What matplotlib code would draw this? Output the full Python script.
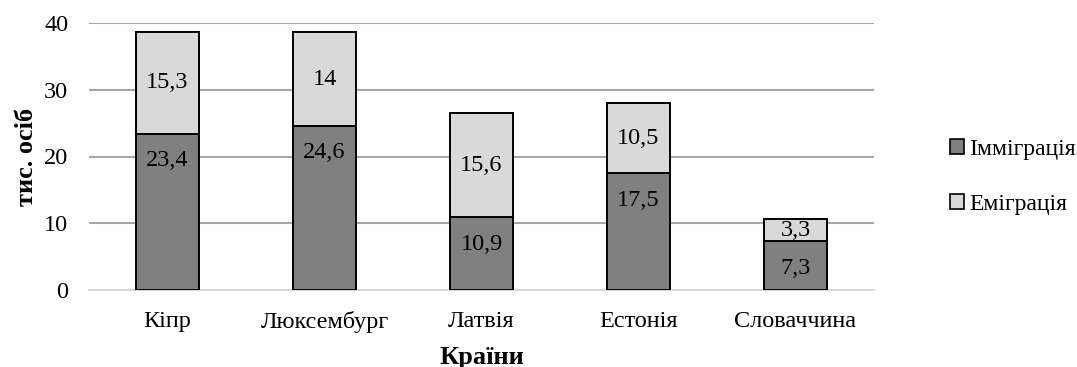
import matplotlib
matplotlib.use('Agg')
import matplotlib.pyplot as plt
import numpy as np
from matplotlib.patches import Patch

plt.rcParams['font.family'] = ['Liberation Serif', 'DejaVu Serif']

countries = ['Кіпр', 'Люксембург', 'Латвія', 'Естонія', 'Словаччина']
immigration = [23.4, 24.6, 10.9, 17.5, 7.3]
emigration = [15.3, 14, 15.6, 10.5, 3.3]
series_names = ['Імміграція', 'Еміграція']

IMM_COLOR = '#808080'
EMI_COLOR = '#d9d9d9'
FS = 17.5
TITLE_FS = 19


def fmt(v):
    return f'{v:g}'.replace('.', ',')


fig = plt.figure(figsize=(10.77, 3.67), dpi=100)
ax = fig.add_axes([89 / 1077, 1 - 290 / 367, (874 - 89) / 1077, (290 - 23) / 367])

x = np.arange(len(countries))
width = 0.40

ax.bar(x, immigration, width, color=IMM_COLOR, edgecolor='black', linewidth=1.4, zorder=3)
ax.bar(x, emigration, width, bottom=immigration, color=EMI_COLOR,
       edgecolor='black', linewidth=1.4, zorder=3)

# підписи: імміграція — під верхнім краєм, еміграція — по центру сегмента
for xi, v in zip(x, immigration):
    ax.annotate(fmt(v), (xi, v), xytext=(0, -19.5), textcoords='offset points',
                ha='center', va='center', fontsize=FS, zorder=4)
for xi, base, v in zip(x, immigration, emigration):
    ax.text(xi, base + v / 2, fmt(v), ha='center', va='center', fontsize=FS, zorder=4)

ax.set_xlim(-0.5, len(countries) - 0.5)
ax.set_ylim(0, 40)
ax.set_yticks([0, 10, 20, 30, 40])
ax.yaxis.grid(True, color='#a6a6a6', linewidth=1.5, zorder=0)
ax.set_axisbelow(True)
for side in ['top', 'right', 'left']:
    ax.spines[side].set_visible(False)
ax.spines['bottom'].set_color('#d9d9d9')
ax.spines['bottom'].set_linewidth(1.5)

ax.set_xticks(x)
ax.set_xticklabels(countries, fontsize=FS)
ax.tick_params(axis='x', length=0, pad=15)
ax.tick_params(axis='y', length=0, pad=15, labelsize=FS)

ax.set_ylabel('тис. осіб', fontsize=TITLE_FS, fontweight='bold')
ax.yaxis.set_label_coords(-0.065, 0.5)
fig.text((89 + 874) / 2 / 1077, 3 / 367, 'Країни', ha='center', va='baseline',
         fontsize=TITLE_FS, fontweight='bold')

handles = [Patch(facecolor=IMM_COLOR, edgecolor='black', linewidth=1.2),
           Patch(facecolor=EMI_COLOR, edgecolor='black', linewidth=1.2)]
fig.legend(handles, series_names, loc='center left', bbox_to_anchor=(950 / 1077, 1 - 177 / 367),
           frameon=False, fontsize=17, handlelength=0.6, handleheight=0.6,
           handletextpad=0.2, labelspacing=1.45, borderpad=0, borderaxespad=0)

fig.savefig('out.png', dpi=100)
